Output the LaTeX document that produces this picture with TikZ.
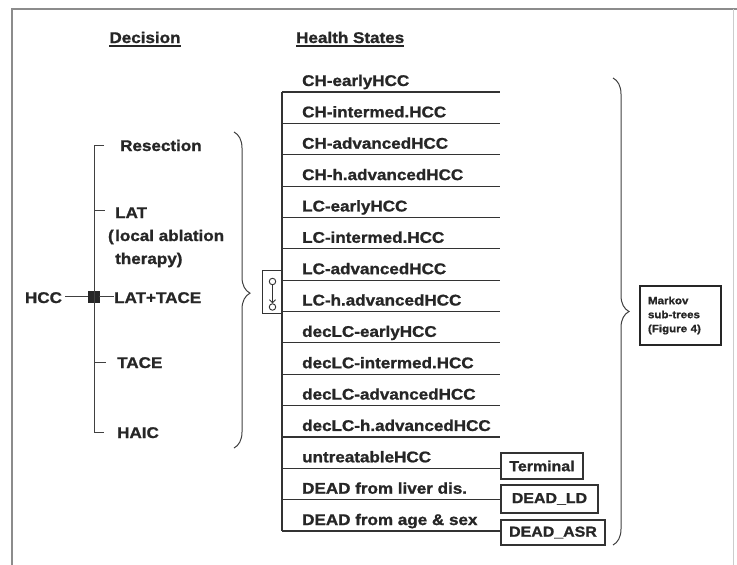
\documentclass[tikz,border=0pt]{standalone}
\usepackage{fontspec}
\setmainfont{Liberation Sans}
\newfontfamily\labfont[FakeStretch=1.1,FakeBold=1.2]{Liberation Sans}
\usetikzlibrary{decorations.pathreplacing,arrows.meta,calc}
\begin{document}
\begin{tikzpicture}[x=1pt,y=-1pt,
  lab/.style={font=\labfont\bfseries\fontsize{15.5}{18}\selectfont, inner sep=0pt, anchor=base west, text=black!85},
  smalllab/.style={font=\labfont\bfseries\fontsize{10.5}{14}\selectfont, text=black!85},
  rowline/.style={draw=black!80, line width=1.1pt},
  treeline/.style={draw=black!75, line width=1pt},
  endbox/.style={draw=black!80, line width=1.1pt, inner sep=0pt, font=\labfont\bfseries\fontsize{14.5}{17}\selectfont, text=black!85},
  bracestyle/.style={draw=black!75, line width=1pt, decorate},
  uline/.style={draw=black!85, line width=1.3pt},
  frame/.style={draw=black!45, line width=1.6pt}
]
\useasboundingbox (0,0) rectangle (737,565);
% frame
\draw[frame] (12,575) -- (12,9) -- (745,9);
\draw[draw=black!20, line width=1pt] (733,9) -- (733,575);

% headings
\node[lab, anchor=base] (dec) at (145,43) {Decision};
\node[lab] (hs) at (296,43) {Health States};
\draw[uline] ([yshift=-3pt]dec.base west) -- ([yshift=-3pt]dec.base east);
\draw[uline] ([yshift=-3pt]hs.base west) -- ([yshift=-3pt]hs.base east);

% decision tree
\node[lab, anchor=base] (hcc) at (43.5,303) {HCC};
\node[fill=black!85, draw=black!85, minimum size=11pt, inner sep=0pt] (sq) at (93.5,296.5) {};
\node[lab] (o1) at (120,151) {Resection};
\node[lab] (o2) at (115,218) {LAT};
\node[lab] (o2b) at (115,241) {\llap{(\hspace{1.5pt}}local ablation};
\node[lab] (o2c) at (115,264) {therapy)};
\node[lab] (o3) at (114,303) {LAT+TACE};
\node[lab] (o4) at (117,368) {TACE};
\node[lab] (o5) at (117,438) {HAIC};
\coordinate (vt) at (94,145);
\coordinate (vb) at (94,432);
\coordinate (t1) at (104,145);
\coordinate (t2a) at (94,210);
\coordinate (t2) at (105,210);
\coordinate (t4a) at (94,362);
\coordinate (t4) at (106,362);
\coordinate (t5) at (104,432);
\draw[treeline] (t1) -- (vt) -- (vb) -- (t5);
\draw[treeline] (t2a) -- (t2);
\draw[treeline] (t4a) -- (t4);
\draw[treeline] ([xshift=3pt]hcc.east |- sq.west) -- (sq.west);
\draw[treeline] (sq.east) -- (o3.west |- sq.east);

% left brace
\coordinate (lbt) at (234,132);
\coordinate (lbb) at (234,448);
\draw[bracestyle, decoration={brace, amplitude=16pt, aspect=0.51}] (lbt) -- (lbb);

% Markov node symbol
\node[draw=black!80, line width=1pt, minimum width=20pt, minimum height=43pt, inner sep=0pt] (mk) at (272,291.5) {};
\node[draw=black!80, line width=0.9pt, circle, minimum size=6.5pt, inner sep=0pt] (c1) at (272.5,281.5) {};
\node[draw=black!80, line width=0.9pt, circle, minimum size=6.5pt, inner sep=0pt] (c2) at (272.5,307) {};
\draw[draw=black!80, line width=0.9pt, -{Straight Barb[length=3pt,width=6pt]}] (c1) -- (c2);

% health states
\coordinate (vtop) at (282,92);
\coordinate (vbot) at (282,531);
\draw[rowline] (vtop) -- (vbot);
\foreach \t [count=\i from 0] in {CH-earlyHCC, CH-intermed.HCC, CH-advancedHCC, CH-h.advancedHCC,
  LC-earlyHCC, LC-intermed.HCC, LC-advancedHCC, LC-h.advancedHCC,
  decLC-earlyHCC, decLC-intermed.HCC, decLC-advancedHCC, decLC-h.advancedHCC,
  untreatableHCC, DEAD from liver dis., DEAD from age \& sex} {
  \pgfmathsetmacro{\yy}{92+31.36*\i}
  \coordinate (s\i) at (282,\yy);
  \node[lab] (h\i) at (302,\yy-6) {\t};
}
\foreach \i in {0,...,11} {
  \coordinate (e\i) at (500,0);
  \draw[rowline] (s\i) -- (s\i -| e\i);
}
\node[endbox, minimum width=82pt, minimum height=26pt] (term) at (542,466) {Terminal};
\node[endbox, minimum width=97pt, minimum height=28pt] (dld) at (549.5,499) {DEAD\_LD};
\node[endbox, minimum width=104pt, minimum height=25pt] (dasr) at (553,532.5) {DEAD\_ASR};
\draw[rowline] (s12) -- (s12 -| term.west);
\draw[rowline] (s13) -- (s13 -| dld.west);
\draw[rowline] (s14) -- (s14 -| dasr.west);

% right brace
\coordinate (rbt) at (613,78);
\coordinate (rbb) at (613,545);
\draw[bracestyle, decoration={brace, amplitude=16pt, aspect=0.5}] (rbt) -- (rbb);

\node[smalllab, draw=black!85, line width=1.4pt, text width=65pt, inner xsep=8pt, minimum height=59pt, align=left] (mkv) at (680.5,315.5) {Markov\\sub-trees\\(Figure 4)};
\end{tikzpicture}
\end{document}
